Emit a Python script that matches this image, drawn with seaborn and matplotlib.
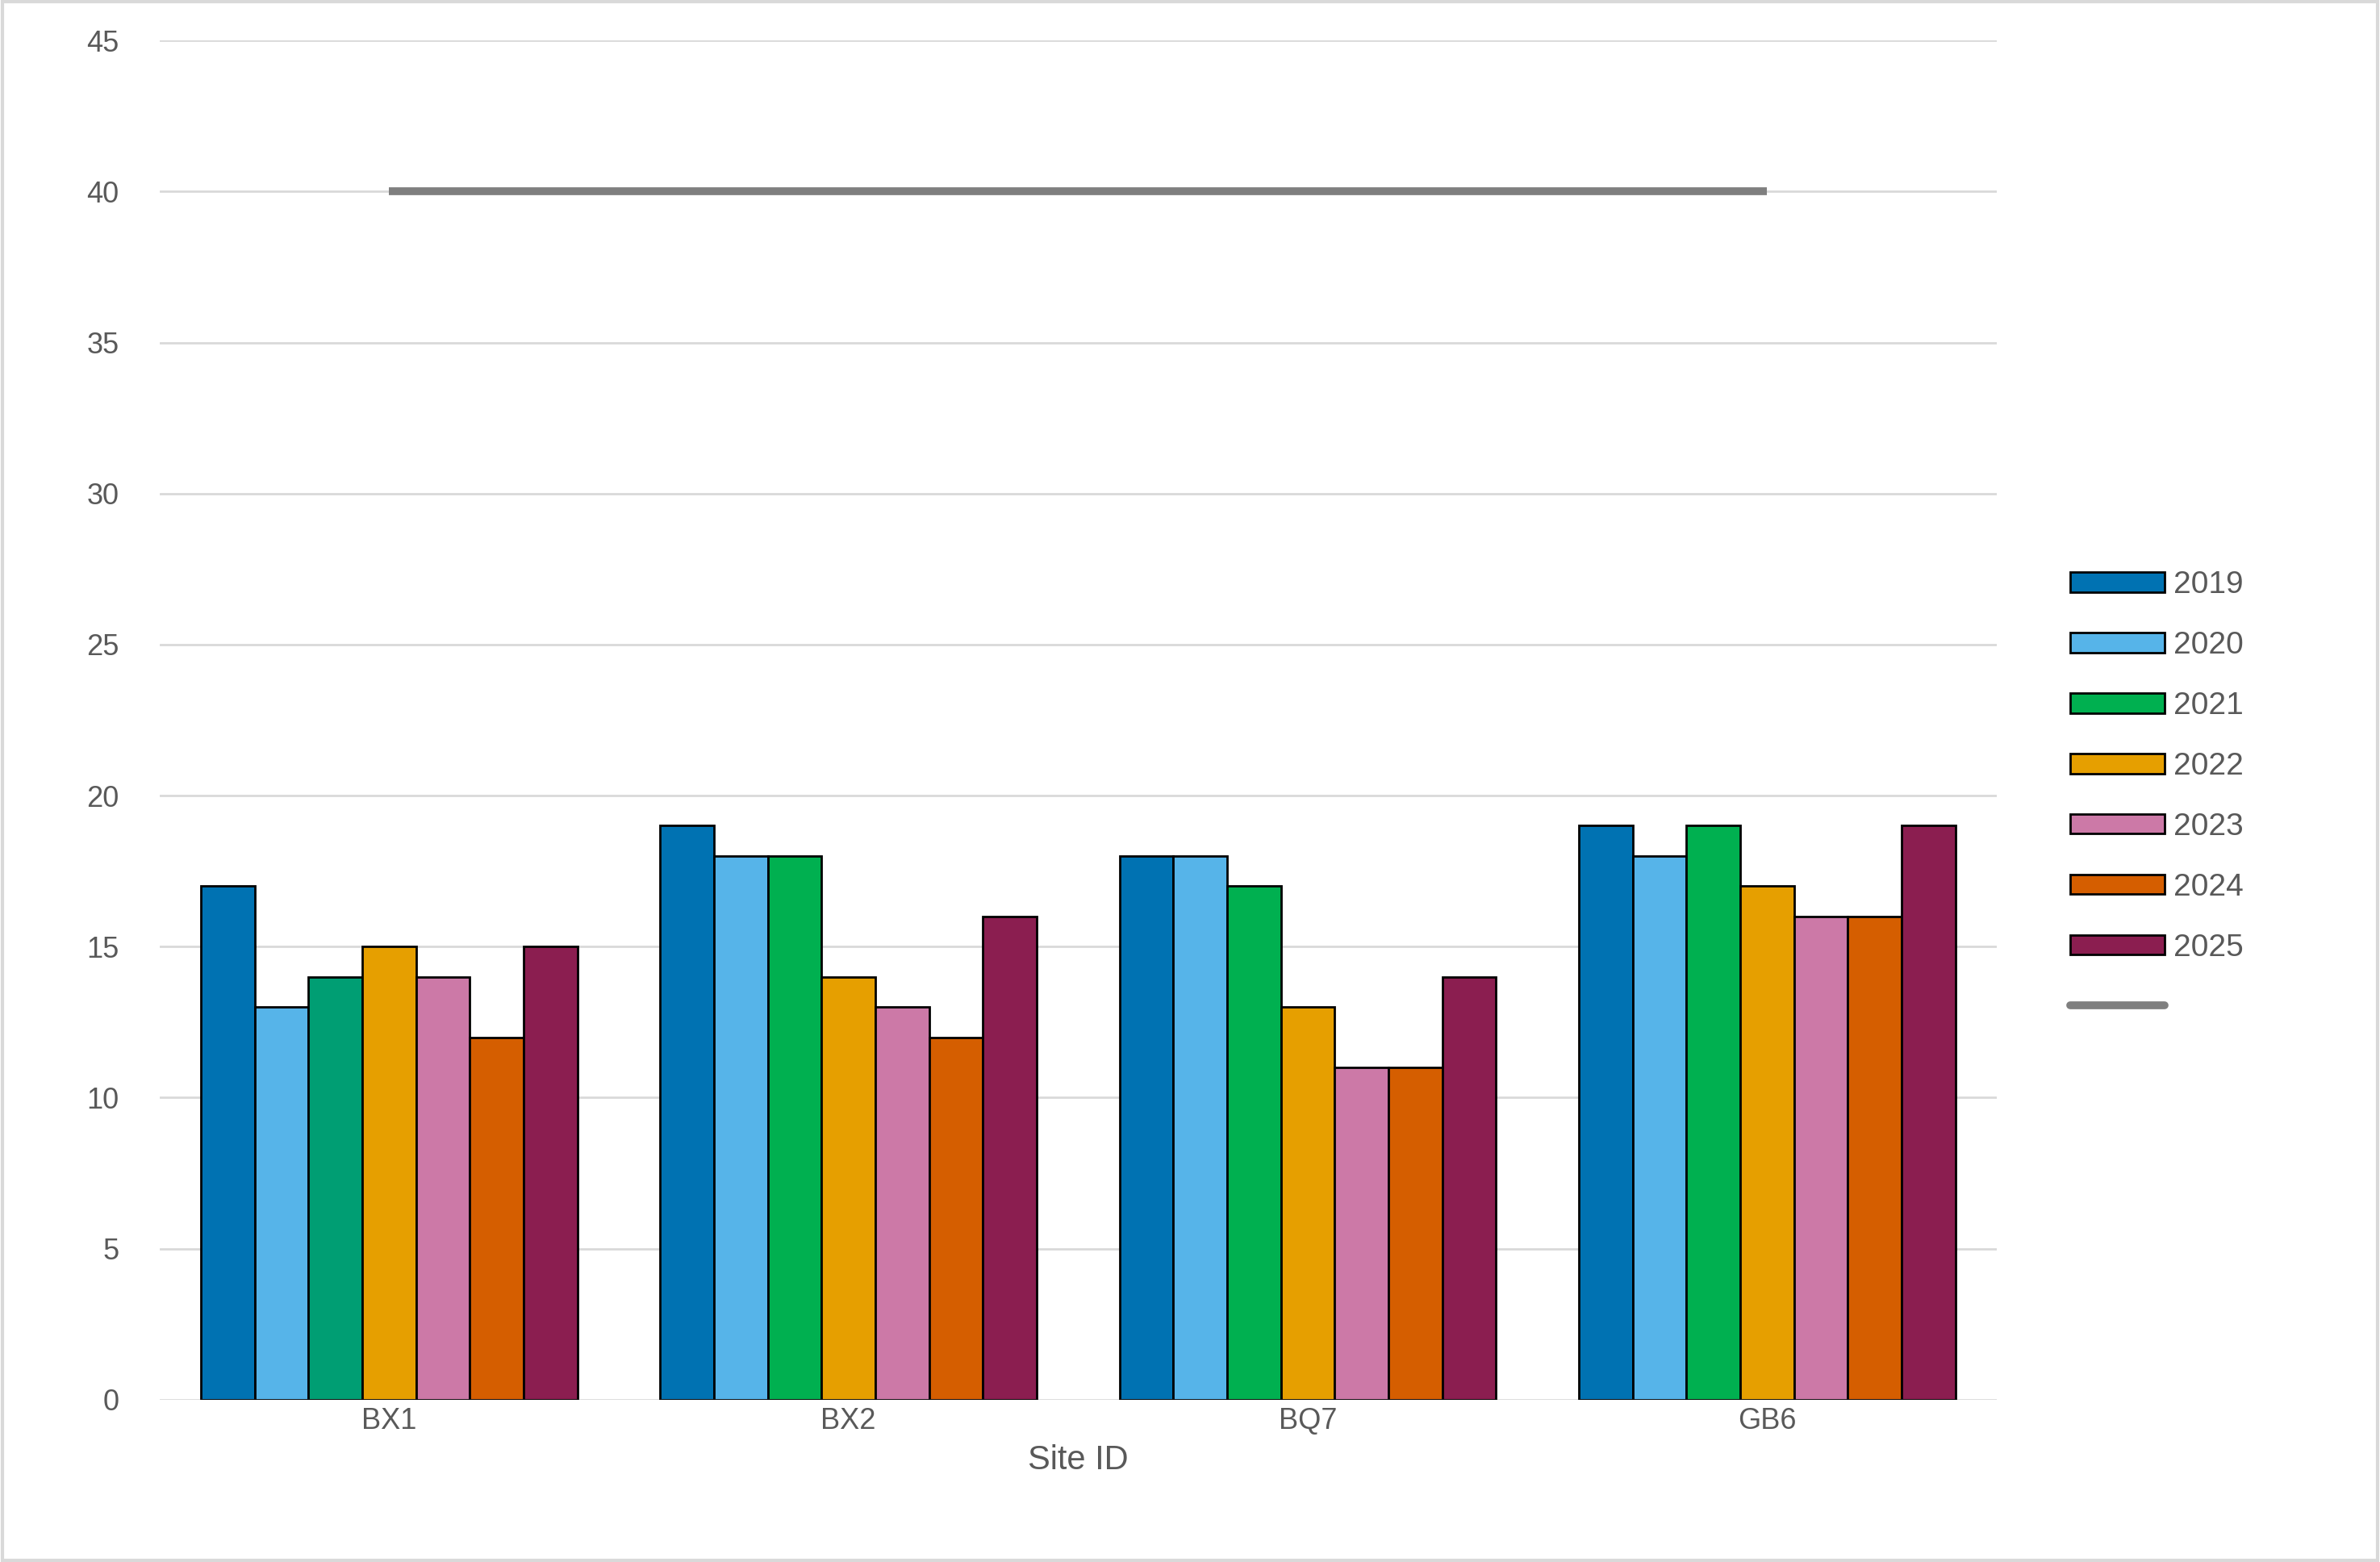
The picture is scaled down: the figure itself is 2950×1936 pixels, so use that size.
import matplotlib
matplotlib.use("Agg")
import matplotlib.pyplot as plt
import seaborn as sns
import pandas as pd
from matplotlib.patches import Patch
from matplotlib.lines import Line2D

sites = ["BX1", "BX2", "BQ7", "GB6"]
years = ["2019", "2020", "2021", "2022", "2023", "2024", "2025"]
v2019 = [17, 19, 18, 19]
v2020 = [13, 18, 18, 18]
v2021 = [14, 18, 17, 19]
v2022 = [15, 14, 13, 17]
v2023 = [14, 13, 11, 16]
v2024 = [12, 12, 11, 16]
v2025 = [15, 16, 14, 19]
limit = [40, 40, 40, 40]
colors = ["#0072B2", "#56B4E9", "#00B050", "#E69F00", "#CC79A7", "#D55E00", "#8B1E50"]
bx1_2021_color = "#009E73"

series = [v2019, v2020, v2021, v2022, v2023, v2024, v2025]
rows = []
for y, vals in zip(years, series):
    for s, v in zip(sites, vals):
        rows.append({"Site": s, "Year": y, "Value": v})
df = pd.DataFrame(rows)

sns.set_style("white")
plt.rcParams['font.family'] = ['Liberation Sans', 'DejaVu Sans']
fig = plt.figure(figsize=(14.75, 9.68), dpi=200)
ax = fig.add_axes([0.067, 0.104, 0.772, 0.87])
sns.barplot(data=df, x="Site", y="Value", hue="Year", palette=colors, width=0.82,
            edgecolor="black", linewidth=1.0, ax=ax, legend=False, saturation=1)
# special colour for BX1 2021
ax.containers[2].patches[0].set_facecolor(bx1_2021_color)
ax.plot(sites, limit, color="#7F7F7F", linewidth=3.5, solid_capstyle="butt", zorder=5)

ax.set_ylim(0, 45)
ax.set_yticks(range(0, 46, 5))
ax.set_xlim(-0.5, 3.5)
ax.yaxis.grid(True, color="#D9D9D9", linewidth=1)
ax.set_axisbelow(True)
for sp in ax.spines.values():
    sp.set_visible(False)
ax.tick_params(axis="both", colors="#595959", labelsize=13, length=0)
ax.tick_params(axis="y", pad=18)
ax.set_xlabel("Site ID", fontsize=15, color="#595959")
ax.set_ylabel("")

handles = [Patch(facecolor=c, edgecolor="black") for c in colors]
handles.append(Line2D([0], [0], color="#7F7F7F", linewidth=3.5))
fig.legend(handles, years + [""], loc="center left", bbox_to_anchor=(0.858, 0.49),
           frameon=False, fontsize=14, labelcolor="#595959", handlelength=3.0,
           handleheight=0.6, labelspacing=1.0, handletextpad=0.3)

fig.patches.append(plt.Rectangle((0.001, 0.001), 0.998, 0.998, transform=fig.transFigure,
                                 fill=False, edgecolor="#D9D9D9", linewidth=1.5))
fig.savefig("out.png", dpi=200)
